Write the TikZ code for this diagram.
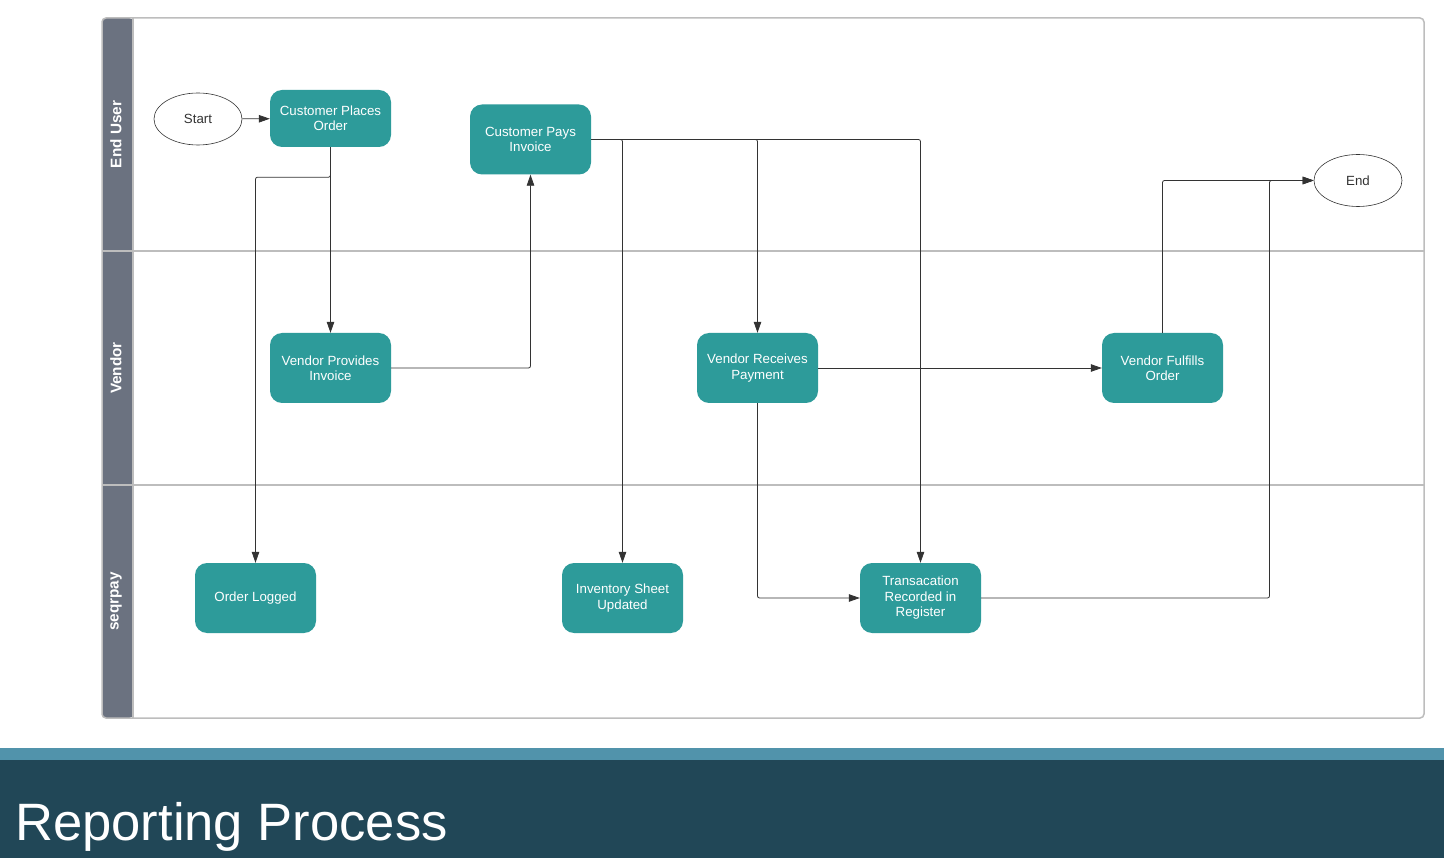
\documentclass[tikz,border=0pt]{standalone}
\usepackage{fontspec}
\setmainfont{Liberation Sans}
\usetikzlibrary{arrows.meta,shapes.geometric}
\definecolor{tealbox}{HTML}{2D9B9A}
\definecolor{lanegray}{HTML}{6B7280}
\definecolor{framegray}{HTML}{BDBDBD}
\definecolor{stripe}{HTML}{5193AB}
\definecolor{darkband}{HTML}{214757}
\definecolor{linecol}{HTML}{333333}
\begin{document}
\begin{tikzpicture}[x=1pt,y=-1pt,
 proc/.style={rectangle, rounded corners=12pt, fill=tealbox, text=white, minimum width=121pt, minimum height=70pt, align=center, font=\fontsize{13.3}{15.5}\selectfont, inner sep=2pt},
 term/.style={ellipse, draw=linecol, line width=0.6pt, minimum width=88pt, minimum height=52pt, inner sep=0pt, font=\fontsize{13.3}{15.5}\selectfont, text=linecol},
 conn/.style={draw=linecol, line width=0.8pt, rounded corners=2pt, -{Triangle[length=11pt,width=7.5pt]}},
 lanelabel/.style={rotate=90, text=white, font=\bfseries\fontsize{15.3}{18}\selectfont},
 divider/.style={draw=framegray, line width=1.2pt}
]
\useasboundingbox (0,0) rectangle (1444,858);
\fill[white] (0,0) rectangle (1444,858);
% frame and lane headers
\fill[lanegray, rounded corners=4pt] (102,18) rectangle (133,718);
\fill[lanegray] (120,18.7) rectangle (133,717.3);
\draw[divider] (133,18) -- (133,718);
\draw[divider] (102,251) -- (1424,251);
\draw[divider] (102,485) -- (1424,485);
\draw[framegray, line width=1.5pt, rounded corners=4pt] (102,18) rectangle (1424,718);
\node[lanelabel] (lane1) at (116,134.5) {End User};
\node[lanelabel] (lane2) at (116,368) {Vendor};
\node[lanelabel] (lane3) at (116,601.5) {seqrpay};
% nodes
\node[term] (start) at (198,119) {Start};
\node[proc, minimum height=57pt] (cpo) at (330.5,118.5) {Customer Places\\Order};
\node[proc] (cpi) at (530.5,139.5) {Customer Pays\\Invoice};
\node[term] (endn) at (1358,180.5) {End};
\node[proc] (vpi) at (330.5,368) {Vendor Provides\\Invoice};
\node[proc] (vrp) at (757.5,368) {Vendor Receives\\Payment};
\node[proc] (vfo) at (1162.5,368) {Vendor Fulfills\\Order};
\node[proc] (ol) at (255.5,598) {Order Logged};
\node[proc] (isu) at (622.5,598) {Inventory Sheet\\Updated};
\node[proc] (trr) at (920.5,598) {Transacation\\Recorded in\\Register};
\coordinate (jn) at (1269.5,180.5);
% connectors
\draw[conn] (start) -- (cpo);
\draw[conn] (cpo.south) -- (vpi.north);
\draw[conn] (cpo.south) -- ++(0,30) -| (ol.north);
\draw[conn] (vpi.east) -| (cpi.south);
\draw[conn] (cpi.east) -| (isu.north);
\draw[conn] (cpi.east) -| (vrp.north);
\draw[conn] (cpi.east) -| (trr.north);
\draw[conn] (vrp.east) -- (vfo.west);
\draw[conn] (vrp.south) |- (trr.west);
\draw[conn] (vfo.north) |- (endn.west);
\draw[conn] (trr.east) -| (jn) -- (endn.west);
% bottom band
\fill[stripe] (0,748) rectangle (1444,760);
\fill[darkband] (0,760) rectangle (1444,858);
\node[anchor=base west, inner sep=0pt, text=white, font=\fontsize{52.6}{60}\selectfont] (title) at (15,840) {Reporting Process};
\end{tikzpicture}
\end{document}
